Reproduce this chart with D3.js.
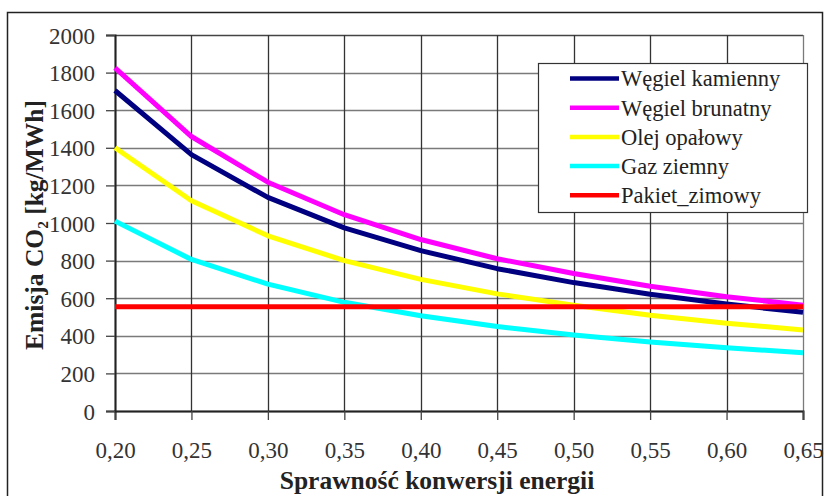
<!DOCTYPE html>
<html>
<head>
<meta charset="utf-8">
<script src="https://cdn.jsdelivr.net/npm/d3@7"></script>
<style>
  body { margin: 0; background: #fff; }
</style>
</head>
<body>
<div id="chart"></div>
<script>
// efficiency values (x axis)
const sprawnosc = [0.20, 0.25, 0.30, 0.35, 0.40, 0.45, 0.50, 0.55, 0.60, 0.65];
const xTickLabels = ["0,20", "0,25", "0,30", "0,35", "0,40", "0,45", "0,50", "0,55", "0,60", "0,65"];
const yTicks = [0, 200, 400, 600, 800, 1000, 1200, 1400, 1600, 1800, 2000];

// emission values, kg/MWh
const wegielKamienny = [1705, 1364, 1136, 974, 853, 757, 683, 621, 569, 525];
const wegielBrunatny = [1825, 1460, 1217, 1044, 912, 810, 731, 664, 608, 563];
const olejOpalowy = [1400, 1118, 932, 800, 700, 623, 562, 509, 467, 431];
const gazZiemny = [1010, 806, 675, 578, 507, 449, 404, 367, 336, 310];
const pakietZimowy = [555, 555, 555, 555, 555, 555, 555, 555, 555, 555];

const seriesNames = ["Węgiel kamienny", "Węgiel brunatny", "Olej opałowy", "Gaz ziemny", "Pakiet_zimowy"];
const seriesColors = ["#000080", "#ff00ff", "#ffff00", "#00ffff", "#ff0000"];
const seriesValues = [wegielKamienny, wegielBrunatny, olejOpalowy, gazZiemny, pakietZimowy];

const FONT = "'Liberation Serif', 'Times New Roman', serif";

const svgWidth = 824;
const svgHeight = 496;
const margin = { top: 35, right: 21, bottom: 85, left: 115 };
const width = svgWidth - margin.left - margin.right;
const height = svgHeight - margin.top - margin.bottom;

const svg = d3.select("#chart").append("svg")
    .attr("width", svgWidth)
    .attr("height", svgHeight)
    .style("font-family", FONT);

// outer frame
svg.append("rect")
    .attr("x", 7.5).attr("y", 12.5)
    .attr("width", 815).attr("height", 500)
    .attr("fill", "none")
    .attr("stroke", "#222")
    .attr("stroke-width", 1.5);

const g = svg.append("g")
    .attr("transform", `translate(${margin.left},${margin.top})`);

const x = d3.scaleLinear().domain([0.20, 0.65]).range([0, width]);
const y = d3.scaleLinear().domain([0, 2000]).range([height, 0]);

// horizontal grid
g.append("g")
    .selectAll("line")
    .data(yTicks)
    .enter().append("line")
    .attr("x1", 0).attr("x2", width)
    .attr("y1", d => Math.round(y(d)) + 0.5)
    .attr("y2", d => Math.round(y(d)) + 0.5)
    .attr("stroke", d => d === 2000 ? "#444" : "#7a7a7a")
    .attr("stroke-width", 1.5);

// vertical grid
g.append("g")
    .selectAll("line")
    .data(sprawnosc)
    .enter().append("line")
    .attr("x1", d => Math.round(x(d)) + 0.5)
    .attr("x2", d => Math.round(x(d)) + 0.5)
    .attr("y1", 0).attr("y2", height)
    .attr("stroke", (d, i) => i === sprawnosc.length - 1 ? "#7a7a7a" : "#333")
    .attr("stroke-width", 1.3);

// axes
const xAxis = g.append("g")
    .attr("transform", `translate(0,${height})`)
    .call(d3.axisBottom(x)
        .tickValues(sprawnosc)
        .tickFormat((d, i) => xTickLabels[i])
        .tickSize(9)
        .tickPadding(22));

const yAxis = g.append("g")
    .call(d3.axisLeft(y)
        .tickValues(yTicks)
        .tickFormat(d3.format("d"))
        .tickSize(9)
        .tickPadding(11));

[xAxis, yAxis].forEach(a => {
    a.attr("font-family", FONT).attr("font-size", 23);
    a.selectAll(".domain").attr("stroke", "#222").attr("stroke-width", 2);
    a.selectAll(".tick line").attr("stroke", "#444").attr("stroke-width", 1.3);
    a.selectAll("text").attr("fill", "#333");
});
yAxis.selectAll("text").attr("dy", "0.35em");

// lines
const line = d3.line()
    .x((d, i) => x(sprawnosc[i]))
    .y(d => y(d));

seriesValues.forEach((vals, k) => {
    g.append("path")
        .datum(vals)
        .attr("d", line)
        .attr("fill", "none")
        .attr("stroke", seriesColors[k])
        .attr("stroke-width", 5)
        .attr("stroke-linejoin", "round");
});

// axis titles
svg.append("text")
    .attr("x", 437)
    .attr("y", 489)
    .attr("text-anchor", "middle")
    .attr("fill", "#222")
    .style("font-size", "25.5px")
    .style("font-weight", "bold")
    .text("Sprawność konwersji energii");

svg.append("text")
    .attr("transform", "translate(43,225) rotate(-90)")
    .attr("text-anchor", "middle")
    .attr("fill", "#222")
    .style("font-size", "25.5px")
    .style("font-weight", "bold")
    .text("Emisja CO₂ [kg/MWh]");

// legend
const legend = svg.append("g").attr("transform", "translate(538,63)");
legend.append("rect")
    .attr("x", 0.5).attr("y", 0.5)
    .attr("width", 269).attr("height", 149)
    .attr("fill", "#fff")
    .attr("stroke", "#333")
    .attr("stroke-width", 1.2);

seriesNames.forEach((name, k) => {
    const ly = 15.5 + k * 29.2;
    legend.append("line")
        .attr("x1", 32).attr("x2", 81)
        .attr("y1", ly).attr("y2", ly)
        .attr("stroke", seriesColors[k])
        .attr("stroke-width", 4.5);
    legend.append("text")
        .attr("x", 83)
        .attr("y", ly)
        .attr("dy", "0.35em")
        .attr("fill", "#222")
        .style("font-size", "22.5px")
        .text(name);
});
</script>
</body>
</html>
